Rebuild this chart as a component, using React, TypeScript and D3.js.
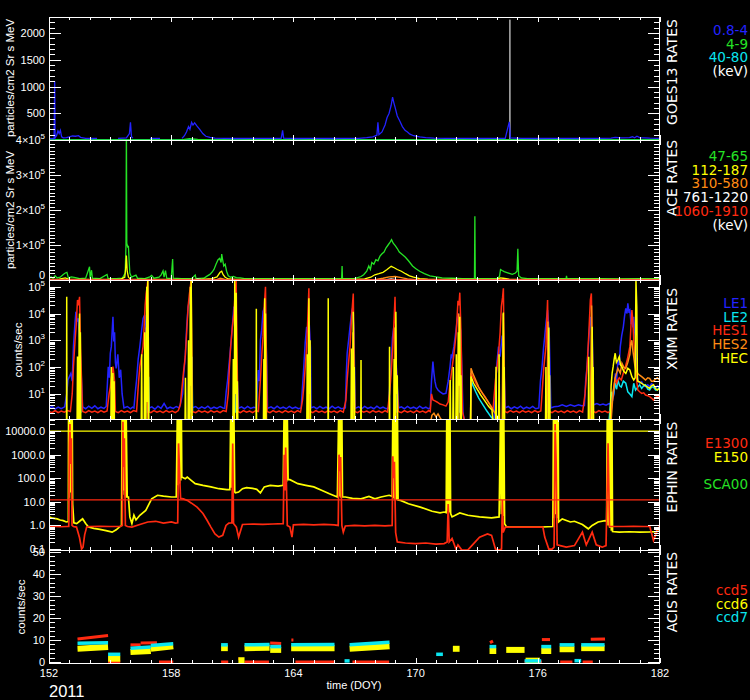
import React from "react";
import * as d3 from "d3";

type Pt = [number, number | null];
type Seg = [number, number, number, number];

const DOY_START = 152;
const DOY_END = 182;
const YEAR_LABEL = "2011";
const X_TITLE = "time (DOY)";
const X_MAJOR_TICKS = [152, 158, 164, 170, 176, 182];

const GOES_TICKS = [500, 1000, 1500, 2000];
const ACE_TICKS = [0, 100000, 200000, 300000, 400000];
const XMM_TICKS = [10, 100, 1000, 10000, 100000];
const EPHIN_TICKS = [0.1, 1, 10, 100, 1000, 10000];
const ACIS_TICKS = [0, 10, 20, 30, 40, 50];

const GOES_LEGEND = ["0.8-4", "4-9", "40-80", "(keV)"];
const ACE_LEGEND = ["47-65", "112-187", "310-580", "761-1220", "1060-1910", "(keV)"];
const XMM_LEGEND = ["LE1", "LE2", "HES1", "HES2", "HEC"];
const EPHIN_LEGEND = ["E1300", "E150", "", "SCA00"];
const ACIS_LEGEND = ["ccd5", "ccd6", "ccd7"];

const EPHIN_E150_LIMIT = 10000;
const EPHIN_E1300_LIMIT = 12;

// ---------------- GOES13 (particles/cm2 Sr s MeV) ----------------
const goesP1: Pt[] = [
  [152.0, 25], [152.25, 30], [152.28, 1100], [152.3, 40], [152.38, 90], [152.44, 170], [152.5, 120], [152.56, 180],
  [152.62, 60], [152.7, 40], [152.85, 45], [153.0, 60], [153.15, 75], [153.3, 70], [153.45, 80], [153.55, 50],
  [153.8, 30], [154.1, 28], [154.36, 30], [154.4, null], [155.39, 30], [155.6, 35], [155.8, 40], [155.95, 120],
  [156.0, 330], [156.05, 60], [156.12, 35], [156.2, null], [156.96, 30], [157.2, 30], [157.45, 30], [157.5, null],
  [158.53, 30], [158.65, 80], [158.75, 150], [158.85, 250], [158.92, 200], [159.0, 330], [159.07, 280], [159.15, 320],
  [159.27, 260], [159.4, 200], [159.55, 120], [159.7, 70], [159.9, 50], [160.15, 35], [160.6, 30], [161.2, 28],
  [162.0, 30], [162.8, 30], [163.4, 32], [163.47, 180], [163.52, 35], [164.2, 28], [165.0, 30], [165.8, 28],
  [166.5, 30], [167.2, 30], [167.6, 45], [167.9, 60], [168.1, 90], [168.15, 330], [168.2, 100], [168.35, 150],
  [168.5, 280], [168.6, 420], [168.7, 500], [168.8, 650], [168.87, 800], [168.93, 700], [169.0, 600], [169.1, 450],
  [169.23, 350], [169.35, 250], [169.48, 180], [169.6, 150], [169.72, 110], [169.9, 80], [170.2, 60], [170.5, 45],
  [170.9, 35], [171.5, 30], [172.3, 30], [173.0, 28], [173.8, 30], [174.4, 30], [174.6, 340], [174.65, 40],
  [175.2, 30], [176.0, 28], [177.0, 30], [178.0, 28], [179.0, 30], [179.6, 35], [179.8, 50], [180.1, 40],
  [180.5, 45], [180.65, 60], [180.75, 40], [180.87, 70], [181.0, 45], [181.5, 35], [182.0, 30],
];
const goesP2: Pt[] = [[152.0, 5], [158.5, 5], [158.9, 25], [159.3, 10], [160.0, 5], [182.0, 5]];
const goesP3: Pt[] = [[152.0, 2], [182.0, 2]];
const goesSpike: Pt[] = [[174.62, 20], [174.63, 2250], [174.64, 20]];

// ---------------- ACE ----------------
const aceP1: Pt[] = [
  [152.0, 4000], [152.1, 9000], [152.2, 5000], [152.3, 12000], [152.4, 6000], [152.55, 8000], [152.7, 16000],
  [152.8, 20000], [152.88, 22000], [152.95, 6000], [153.1, 9000], [153.3, 7000], [153.5, 4000], [153.8, 5000],
  [153.99, 38000], [154.02, 5000], [154.09, 28000], [154.13, 5000], [154.5, 4000], [154.85, 16000], [154.9, 4000],
  [155.3, 4000], [155.6, 5000], [155.74, 20000], [155.78, 100000], [155.8, 450000], [155.82, 105000], [155.86, 95000],
  [155.9, 96000], [155.93, 60000], [155.97, 20000], [156.05, 8000], [156.27, 14000], [156.35, 5000], [156.7, 4000],
  [156.95, 9000], [157.04, 13000], [157.15, 5000], [157.4, 8000], [157.5, 14000], [157.6, 26000], [157.65, 8000],
  [157.72, 27000], [157.78, 5000], [158.0, 4000], [158.07, 60000], [158.1, 5000], [158.5, 4000], [159.0, 4000],
  [159.18, 14000], [159.22, 4000], [159.6, 5000], [159.76, 11000], [159.9, 16000], [160.0, 22000], [160.1, 30000],
  [160.2, 45000], [160.3, 58000], [160.38, 62000], [160.45, 50000], [160.48, 74000], [160.52, 60000], [160.58, 40000],
  [160.65, 45000], [160.72, 25000], [160.8, 12000], [160.92, 8000], [161.05, 10000], [161.2, 7000], [161.4, 6000],
  [161.6, 4000], [162.0, 4000], [163.0, 4000], [164.0, 4000], [165.0, 4000], [166.0, 4000], [166.37, 4000],
  [166.39, 40000], [166.41, 4000], [167.0, 4000], [167.32, 10000], [167.45, 15000], [167.6, 25000], [167.7, 40000],
  [167.78, 30000], [167.85, 50000], [167.95, 45000], [168.05, 58000], [168.15, 55000], [168.25, 68000], [168.35, 75000],
  [168.45, 80000], [168.55, 92000], [168.65, 100000], [168.75, 108000], [168.82, 115000], [168.9, 105000], [169.0, 98000],
  [169.1, 90000], [169.2, 80000], [169.36, 72000], [169.5, 65000], [169.65, 55000], [169.85, 40000], [170.0, 33000],
  [170.2, 25000], [170.43, 18000], [170.7, 12000], [171.0, 9000], [171.3, 6000], [171.79, 5000], [172.3, 4000],
  [172.89, 4000], [172.91, 182000], [172.93, 4000], [173.5, 4000], [174.0, 4000], [174.12, 10000], [174.17, 30000],
  [174.25, 27000], [174.35, 24000], [174.45, 22000], [174.6, 19000], [174.75, 16000], [174.9, 20000], [174.98, 25000],
  [175.02, 89000], [175.06, 12000], [175.2, 6000], [175.5, 4000], [176.0, 4000], [177.0, 4000], [177.39, 4000],
  [177.41, 12000], [177.43, 4000], [178.0, 4000], [179.0, 4000], [180.0, 3500], [181.0, 4000], [182.0, 4000],
];
const aceP2: Pt[] = [
  [152.0, 1500], [152.5, 2500], [152.8, 6000], [152.95, 2500], [153.5, 2000], [154.5, 2000], [155.5, 2000],
  [155.72, 8000], [155.76, 30000], [155.8, 70000], [155.84, 25000], [155.9, 8000], [156.0, 2500], [157.0, 2000],
  [158.0, 2000], [159.5, 2000], [160.0, 4000], [160.25, 9000], [160.4, 22000], [160.48, 25000], [160.55, 15000],
  [160.65, 8000], [160.8, 3000], [161.2, 2000], [163.0, 1500], [165.0, 1500], [167.0, 1500], [167.5, 3000],
  [167.8, 8000], [168.0, 15000], [168.2, 18000], [168.4, 22000], [168.6, 30000], [168.8, 39000], [168.95, 35000],
  [169.1, 30000], [169.3, 25000], [169.5, 18000], [169.7, 12000], [169.9, 8000], [170.2, 4000], [170.6, 2500],
  [171.5, 2000], [173.0, 1500], [174.0, 2000], [174.15, 6000], [174.3, 5000], [174.6, 2500], [175.5, 1500],
  [178.0, 1500], [182.0, 1500],
];
const aceP3: Pt[] = [
  [152.0, 500], [160.2, 500], [160.4, 5000], [160.55, 3000], [160.7, 500], [168.0, 1000], [168.4, 5000],
  [168.7, 9000], [169.0, 10000], [169.3, 7000], [169.6, 3000], [170.0, 800], [182.0, 500],
];
const aceP4: Pt[] = [[152.0, 200], [159.1, 200], [159.3, 2500], [159.6, 200], [168.5, 200], [168.8, 3000], [169.1, 200], [182.0, 200]];
const aceP5: Pt[] = [[152.0, 100], [182.0, 100]];

// ---------------- XMM (counts/sec) ----------------
const xmmLE1: Pt[] = [
  [152.0, 2.9], [152.15, 3.4], [152.3, 2.7], [152.45, 3.2], [152.6, 2.8], [152.77, 3.3], [152.87, 10], [152.93, 33],
  [153.07, 58], [153.14, 30], [153.2, 580], [153.26, 3000], [153.32, 11700], [153.38, 5000], [153.43, 6600],
  [153.51, 1000], [153.58, 60], [153.65, 3.3], [153.8, 2.8], [153.95, 3.5], [154.1, 2.9], [154.25, 3.6], [154.4, 2.8],
  [154.55, 3.2], [154.7, 2.9], [154.81, 3.4], [154.91, 104], [154.96, 40], [155.01, 330], [155.06, 580], [155.14, 7600],
  [155.18, 900], [155.22, 2000], [155.26, 150], [155.3, 90], [155.38, 300], [155.45, 40], [155.52, 80], [155.59, 10],
  [155.68, 3.0], [155.85, 3.4], [156.0, 2.8], [156.1, 3.2], [156.17, 3.0], [156.24, 12], [156.3, 33], [156.38, 200],
  [156.46, 580], [156.55, 2400], [156.62, 6600], [156.7, 9000], [156.75, 3000], [156.82, 300], [156.89, 2.9],
  [157.05, 3.3], [157.2, 2.7], [157.35, 3.5], [157.5, 2.9], [157.65, 4.4], [157.8, 2.8], [157.95, 3.2], [158.1, 2.9],
  [158.25, 3.4], [158.4, 3.0], [158.5, 6], [158.56, 10], [158.62, 60], [158.69, 245], [158.76, 3200], [158.83, 18000],
  [158.9, 30000], [158.94, 56000], [158.98, 2000], [159.02, 3.0], [159.2, 3.4], [159.35, 2.8], [159.5, 3.3],
  [159.65, 2.9], [159.8, 3.5], [159.95, 2.8], [160.1, 3.2], [160.25, 2.9], [160.4, 3.4], [160.55, 3.0], [160.63, 2.9],
  [160.7, 12], [160.77, 33], [160.85, 150], [160.92, 580], [161.0, 3200], [161.08, 18000], [161.15, 5000],
  [161.21, 104], [161.31, 2.9], [161.45, 3.3], [161.6, 2.8], [161.75, 3.4], [161.9, 2.9], [162.05, 3.2], [162.18, 3.0],
  [162.28, 78], [162.33, 30], [162.38, 1000], [162.44, 2400], [162.51, 12000], [162.59, 18000], [162.68, 300],
  [162.73, 2.9], [162.9, 3.3], [163.05, 2.8], [163.2, 3.5], [163.35, 2.9], [163.5, 3.2], [163.65, 2.8], [163.8, 3.4],
  [163.95, 2.9], [164.1, 3.2], [164.25, 2.8], [164.38, 3.0], [164.45, 20], [164.51, 104], [164.58, 800],
  [164.65, 3200], [164.7, 2000], [164.76, 7600], [164.84, 500], [164.86, 3.0], [165.0, 3.3], [165.15, 2.8],
  [165.3, 3.4], [165.45, 2.9], [165.6, 3.2], [165.75, 2.8], [165.9, 3.5], [166.05, 2.9], [166.2, 3.3], [166.35, 2.8],
  [166.55, 3.0], [166.6, 60], [166.64, 330], [166.71, 1000], [166.78, 3200], [166.84, 8000], [166.9, 15600],
  [166.97, 3000], [167.03, 2.9], [167.2, 3.3], [167.35, 2.8], [167.5, 3.4], [167.65, 2.9], [167.8, 3.2], [167.95, 2.8],
  [168.1, 3.5], [168.25, 2.9], [168.4, 3.2], [168.55, 2.8], [168.68, 3.0], [168.74, 30], [168.8, 104], [168.86, 1200],
  [168.93, 3200], [168.98, 500], [169.03, 300], [169.1, 20], [169.17, 3.0], [169.3, 3.3], [169.45, 2.8], [169.6, 3.4],
  [169.75, 2.9], [169.9, 3.2], [170.05, 2.8], [170.2, 3.5], [170.35, 2.9], [170.5, 3.2], [170.62, 2.8], [170.72, 3.0],
  [170.78, 30], [170.85, 160], [170.9, 60], [170.95, 30], [171.01, 18], [171.1, 14], [171.2, 12], [171.35, 10],
  [171.49, 10.5], [171.6, 30], [171.69, 104], [171.75, 300], [171.79, 245], [171.88, 580], [171.95, 1500],
  [172.0, 3000], [172.08, 10100], [172.14, 5000], [172.21, 2400], [172.28, 50], [172.33, 1.9], [172.4, 1.0],
  [172.45, null], [173.85, 1.0], [173.92, 18], [174.0, 160], [174.07, 580], [174.15, 245], [174.25, 1500],
  [174.32, 300], [174.4, 3.0], [174.55, 3.4], [174.7, 2.8], [174.85, 3.3], [175.0, 2.9], [175.15, 3.5], [175.3, 2.8],
  [175.45, 3.2], [175.6, 2.9], [175.75, 3.4], [175.9, 2.8], [176.05, 3.0], [176.13, 30], [176.21, 104], [176.28, 500],
  [176.34, 1370], [176.41, 5000], [176.48, 13500], [176.56, 2000], [176.64, 3.0], [176.8, 3.3], [177.02, 3.5],
  [177.2, 3.9], [177.4, 3.4], [177.6, 3.9], [177.8, 3.5], [178.0, 3.9], [178.15, 3.6], [178.29, 3.7], [178.35, 30],
  [178.42, 104], [178.5, 1000], [178.58, 7600], [178.64, 3000], [178.68, 1000], [178.73, 3.9], [178.9, 4.4],
  [179.05, 3.9], [179.2, 4.2], [179.35, 3.8], [179.5, 4.4], [179.62, 4.0], [179.74, 10], [179.8, 58], [179.87, 30],
  [179.93, 180], [180.0, 120], [180.05, 580], [180.12, 1500], [180.2, 3200], [180.26, 8000], [180.32, 15600],
  [180.38, 10000], [180.42, 24000], [180.47, 12000], [180.52, 13500], [180.58, 4000], [180.62, 6000], [180.67, 3000],
  [180.71, 7600], [180.76, 2000], [180.8, 1000], [180.85, 100], [180.91, 33], [181.0, 25], [181.1, 28], [181.2, 20],
  [181.29, 18.6], [181.4, 22], [181.49, 18.6], [181.58, 24], [181.68, 22], [181.78, 16], [181.87, 20], [181.97, 19],
];
const xmmLE2: Pt[] = [
  [153.45, 2], [153.52, 60], [153.56, 2], [153.6, null], [156.84, 2], [156.89, 44], [156.92, 2], [156.95, null],
  [158.98, 2], [159.02, 245], [159.05, 2], [159.1, null], [161.17, 2], [161.21, 130], [161.25, 2], [161.3, null],
  [162.6, 2], [162.63, 10], [162.66, 2], [162.7, null], [169.0, 2], [169.03, 40], [169.06, 2], [169.1, null],
  [172.17, 2], [172.2, 40], [172.23, 2], [172.3, null], [172.7, 1.0], [172.72, 33], [172.8, 22], [172.95, 12],
  [173.1, 7], [173.3, 4], [173.5, 2.3], [173.7, 1.4], [173.82, 1.1], [173.9, null], [174.28, 2], [174.31, 44],
  [174.34, 2], [174.4, null], [176.51, 2], [176.54, 245], [176.57, 2], [176.6, null], [178.64, 2], [178.67, 245],
  [178.7, 2], [178.8, null], [179.5, 1.0], [179.55, 3], [179.62, 12], [179.7, 8], [179.8, 25], [179.87, 15],
  [179.93, 33], [180.02, 20], [180.1, 18], [180.2, 30], [180.32, 25], [180.42, 12], [180.52, 10], [180.62, 8],
  [180.71, 25], [180.8, 14], [180.91, 18], [181.0, 22], [181.1, 16], [181.2, 20], [181.29, 22], [181.4, 15],
  [181.49, 14], [181.58, 18], [181.68, 18], [181.78, 14], [181.87, 14], [181.97, 18],
];
const xmmHES1: Pt[] = [
  [152.0, 2.2], [152.15, 2.0], [152.3, 2.4], [152.45, 2.0], [152.6, 2.3], [152.75, 2.1], [152.9, 2.4], [153.05, 2.2],
  [153.14, 10], [153.2, 104], [153.28, 1000], [153.33, 3200], [153.4, 32000], [153.45, 20000], [153.5, 42000],
  [153.55, 500], [153.62, 10], [153.65, 2.2], [153.8, 2.0], [153.95, 2.4], [154.1, 2.1], [154.25, 2.3], [154.4, 2.0],
  [154.55, 2.4], [154.7, 2.1], [154.85, 2.3], [154.95, 10], [155.01, 18], [155.06, 40], [155.1, 58], [155.14, 104],
  [155.18, 60], [155.22, 30], [155.26, 2.2], [155.4, 2.0], [155.55, 2.4], [155.7, 2.1], [155.85, 2.3], [156.0, 2.0],
  [156.15, 2.4], [156.3, 2.2], [156.4, 30], [156.46, 104], [156.52, 200], [156.56, 300], [156.62, 600], [156.65, 1370],
  [156.72, 20000], [156.77, 56000], [156.82, 100000], [156.85, 178000], [156.89, 2.2], [157.0, 2.0], [157.15, 2.4],
  [157.3, 2.1], [157.45, 2.3], [157.6, 2.0], [157.75, 2.4], [157.9, 2.1], [158.05, 2.3], [158.2, 2.0], [158.35, 2.4],
  [158.45, 4], [158.5, 10], [158.6, 60], [158.69, 245], [158.76, 2000], [158.83, 18000], [158.89, 50000],
  [158.94, 100000], [158.98, 178000], [159.03, 2.2], [159.2, 2.0], [159.35, 2.4], [159.5, 2.1], [159.65, 2.3],
  [159.8, 2.0], [159.95, 2.4], [160.1, 2.1], [160.25, 2.3], [160.4, 2.0], [160.55, 2.4], [160.7, 2.2], [160.8, 10],
  [160.86, 100], [160.92, 580], [161.0, 3000], [161.08, 10100], [161.14, 60000], [161.19, 178000], [161.27, 2.2],
  [161.4, 2.0], [161.55, 2.4], [161.7, 2.1], [161.85, 2.3], [162.0, 2.0], [162.15, 2.4], [162.28, 2.2], [162.38, 33],
  [162.45, 300], [162.51, 1370], [162.57, 20000], [162.63, 100000], [162.71, 2.2], [162.85, 2.0], [163.0, 2.4],
  [163.15, 2.1], [163.3, 2.3], [163.45, 2.0], [163.6, 2.4], [163.75, 2.1], [163.9, 2.3], [164.05, 2.0], [164.2, 2.4],
  [164.35, 2.1], [164.45, 6], [164.51, 18], [164.58, 100], [164.65, 580], [164.7, 5000], [164.76, 87000],
  [164.82, 2.2], [164.95, 2.0], [165.1, 2.4], [165.25, 2.1], [165.4, 2.3], [165.55, 2.0], [165.7, 2.4], [165.85, 2.1],
  [166.0, 2.3], [166.15, 2.0], [166.3, 2.4], [166.45, 2.1], [166.58, 6], [166.64, 33], [166.71, 150], [166.78, 580],
  [166.86, 8000], [166.94, 56000], [167.01, 2.2], [167.15, 2.0], [167.3, 2.4], [167.45, 2.1], [167.6, 2.3],
  [167.75, 2.0], [167.9, 2.4], [168.05, 2.1], [168.2, 2.3], [168.35, 2.0], [168.5, 2.4], [168.62, 2.1], [168.72, 10],
  [168.8, 58], [168.88, 580], [168.94, 5000], [168.99, 42000], [169.05, 100], [169.15, 2.2], [169.3, 2.0],
  [169.45, 2.4], [169.6, 2.1], [169.75, 2.3], [169.9, 2.0], [170.05, 2.4], [170.2, 2.1], [170.35, 2.3], [170.5, 2.0],
  [170.65, 2.4], [170.72, 2.2], [170.78, 10], [170.85, 6], [170.95, 5.5], [171.05, 5], [171.2, 4.2], [171.35, 3.9],
  [171.49, 3.5], [171.6, 5], [171.69, 25], [171.79, 90], [171.88, 300], [171.98, 1500], [172.04, 8000],
  [172.08, 30000], [172.13, 20000], [172.17, 60000], [172.23, 2000], [172.3, 2.2], [172.4, 1.0], [172.7, 1.0],
  [172.72, 60], [172.85, 38], [173.0, 22], [173.2, 13], [173.4, 8], [173.6, 4.5], [173.8, 2.5], [173.92, 33],
  [174.0, 100], [174.07, 300], [174.15, 2000], [174.21, 18000], [174.27, 40000], [174.31, 87000], [174.38, 2.2],
  [174.5, 2.0], [174.65, 2.4], [174.8, 2.1], [174.95, 2.3], [175.1, 2.0], [175.25, 2.4], [175.4, 2.1], [175.55, 2.3],
  [175.7, 2.0], [175.85, 2.4], [176.0, 2.1], [176.15, 2.3], [176.25, 30], [176.3, 104], [176.36, 300], [176.4, 580],
  [176.44, 5000], [176.48, 32000], [176.56, 2.2], [176.7, 2.0], [176.85, 2.4], [177.0, 2.1], [177.15, 2.3],
  [177.3, 2.0], [177.45, 2.4], [177.6, 2.1], [177.75, 2.3], [177.9, 2.0], [178.05, 2.4], [178.2, 2.1], [178.32, 10],
  [178.42, 104], [178.5, 1500], [178.58, 32000], [178.63, 56000], [178.73, 2.2], [178.85, 2.0], [179.0, 2.4],
  [179.15, 2.1], [179.3, 2.3], [179.45, 2.0], [179.6, 2.4], [179.74, 18], [179.8, 40], [179.87, 25], [179.93, 33],
  [180.0, 40], [180.1, 33], [180.2, 60], [180.3, 104], [180.4, 200], [180.52, 580], [180.57, 3000], [180.62, 13500],
  [180.67, 5000], [180.71, 1000], [180.76, 300], [180.81, 150], [180.86, 30], [180.91, 14], [181.0, 12], [181.1, 10.5],
  [181.2, 11], [181.29, 9.1], [181.4, 8.5], [181.49, 7.9], [181.58, 7], [181.68, 5.9], [181.78, 7.5], [181.87, 8],
  [181.97, 7.9],
];
const xmmHES2: Pt[] = [
  [152.0, 1.0], [156.7, 1.0], [156.78, 3000], [156.86, 1.0], [158.9, 1.0], [158.97, 100000], [159.02, 1.0],
  [161.1, 1.0], [161.17, 20000], [161.24, 1.0], [162.57, 1.0], [162.62, 3000], [162.68, 1.0], [164.7, 1.0],
  [164.75, 5000], [164.8, 1.0], [166.88, 1.0], [166.93, 2000], [166.98, 1.0], [168.94, 1.0], [168.98, 3000],
  [169.04, 1.0], [170.75, 1.0], [170.8, 1.6], [170.9, 1.9], [171.0, 1.4], [171.1, 1.8], [171.2, 1.3], [171.3, 1.0],
  [172.05, 1.0], [172.12, 10000], [172.2, 1.0], [172.7, 1.0], [172.72, 90], [172.8, 60], [172.95, 33], [173.1, 18],
  [173.3, 10], [173.5, 6], [173.7, 3.5], [173.85, 2.2], [174.0, 1.5], [174.1, 1.0], [174.25, 1.0], [174.3, 10000],
  [174.36, 1.0], [176.45, 1.0], [176.5, 5000], [176.55, 1.0], [178.58, 1.0], [178.64, 20000], [178.7, 1.0],
  [179.6, 1.0], [179.7, 12], [179.8, 40], [179.93, 90], [180.05, 60], [180.13, 140], [180.22, 100], [180.32, 90],
  [180.42, 150], [180.52, 300], [180.57, 800], [180.62, 1000], [180.67, 400], [180.71, 245], [180.76, 120],
  [180.81, 78], [180.91, 58], [181.0, 50], [181.1, 44], [181.2, 38], [181.29, 33], [181.4, 40], [181.49, 38],
  [181.58, 30], [181.68, 30], [181.78, 36], [181.87, 40], [181.97, 33],
];
const xmmHEC: Pt[] = [
  [152.0, 1.0], [152.86, 1.0], [152.87, 42000], [152.88, 1.0], [153.38, 1.0], [153.4, 250], [153.42, 1.0],
  [153.46, 1.0], [153.48, 3000], [153.5, 10000], [153.52, 1.0], [153.54, 2000], [153.56, 1.0], [155.04, 1.0],
  [155.06, 100], [155.08, 1.0], [155.12, 1.0], [155.14, 60], [155.16, 1.0], [155.19, 1.0], [155.2, 30], [155.21, 1.0],
  [156.53, 1.0], [156.55, 300], [156.57, 1.0], [156.68, 1.0], [156.7, 2000], [156.72, 1.0], [156.76, 1.0],
  [156.8, 100000], [156.82, 5], [156.85, 178000], [156.88, 500], [156.9, 1.0], [158.68, 1.0], [158.7, 40],
  [158.72, 1.0], [158.83, 1.0], [158.85, 1000], [158.87, 1.0], [158.92, 1.0], [158.94, 100000], [158.96, 20],
  [158.98, 178000], [159.0, 3000], [159.02, 1.0], [161.03, 1.0], [161.05, 200], [161.07, 1.0], [161.1, 1.0],
  [161.12, 178000], [161.15, 10], [161.19, 60000], [161.22, 1.0], [161.25, 30], [161.27, 1.0], [162.17, 1.0],
  [162.18, 15000], [162.19, 1.0], [162.53, 1.0], [162.55, 200], [162.57, 1.0], [162.58, 1.0], [162.59, 37000],
  [162.61, 5], [162.63, 10000], [162.65, 1.0], [164.66, 1.0], [164.68, 300], [164.7, 1.0], [164.74, 1.0],
  [164.76, 37000], [164.79, 10], [164.82, 1000], [164.84, 1.0], [165.7, 1.0], [165.71, 37000], [165.72, 1.0],
  [166.83, 1.0], [166.85, 500], [166.87, 1.0], [166.92, 1.0], [166.94, 11700], [166.97, 10], [166.99, 100],
  [167.01, 1.0], [167.31, 1.0], [167.32, 184], [167.33, 1.0], [168.71, 1.0], [168.72, 580], [168.73, 1.0],
  [168.93, 1.0], [168.95, 200], [168.97, 1.0], [169.01, 1.0], [169.03, 11700], [169.06, 10], [169.1, 50],
  [169.12, 1.0], [171.68, 1.0], [171.7, 33], [171.72, 1.0], [171.83, 1.0], [171.85, 100], [171.87, 1.0],
  [171.98, 1.0], [172.0, 300], [172.02, 1.0], [172.08, 1.0], [172.1, 2000], [172.13, 20], [172.17, 7600],
  [172.2, 1.0], [172.23, 50], [172.25, 1.0], [172.7, 1.0], [172.72, 45], [172.85, 25], [173.0, 16], [173.2, 9],
  [173.4, 5.5], [173.6, 3.3], [173.75, 2.5], [173.8, 1.0], [173.93, 1.0], [173.95, 104], [173.97, 1.0],
  [174.08, 1.0], [174.1, 300], [174.12, 1.0], [174.29, 1.0], [174.31, 11000], [174.34, 10], [174.35, 100],
  [174.37, 1.0], [176.38, 1.0], [176.4, 100], [176.42, 1.0], [176.52, 1.0], [176.54, 3000], [176.56, 10],
  [176.58, 50], [176.6, 1.0], [178.48, 1.0], [178.5, 245], [178.52, 1.0], [178.65, 1.0], [178.67, 3200],
  [178.7, 10], [178.72, 100], [178.74, 1.0], [179.55, 1.0], [179.6, 20], [179.65, 60], [179.7, 104], [179.75, 200],
  [179.8, 330], [179.86, 150], [179.93, 184], [180.0, 245], [180.06, 120], [180.13, 104], [180.22, 70], [180.32, 58],
  [180.42, 90], [180.52, 78], [180.62, 44], [180.71, 33], [180.78, 40], [180.82, 178000], [180.86, 18000],
  [180.89, 40], [180.91, 30], [181.0, 28], [181.1, 25], [181.2, 22], [181.29, 20], [181.4, 18], [181.49, 16],
  [181.58, 20], [181.68, 22], [181.78, 16], [181.87, 14], [181.97, 16],
];

// ---------------- EPHIN ----------------
const ephE150: Pt[] = [
  [152.0, 2.3], [152.12, 2.1], [152.25, 2.0], [152.4, 1.9], [152.55, 1.7], [152.7, 1.6], [152.85, 1.4], [152.95, 1.45],
  [152.96, 40000], [152.99, 15], [153.02, 40000], [153.05, 25], [153.08, 40000], [153.11, 12], [153.14, 40000],
  [153.16, 8], [153.22, 1.3], [153.36, 1.2], [153.5, 1.5], [153.65, 1.9], [153.8, 1.2], [153.94, 0.85], [154.2, 0.75],
  [154.5, 0.68], [154.8, 0.6], [155.1, 0.52], [155.3, 0.65], [155.45, 0.85], [155.56, 1.0], [155.59, 40000],
  [155.62, 20], [155.65, 40000], [155.69, 30], [155.72, 40000], [155.76, 15], [155.79, 40000], [155.84, 16],
  [155.9, 16], [155.97, 2.3], [156.07, 1.2], [156.17, 2.7], [156.27, 1.7], [156.46, 2.7], [156.75, 4.3],
  [157.04, 13.4], [157.33, 19], [157.62, 17.5], [158.01, 16], [158.25, 16], [158.3, 40000], [158.34, 50],
  [158.37, 40000], [158.41, 60], [158.44, 40000], [158.47, 80], [158.5, 40000], [158.52, 113], [158.69, 96],
  [158.79, 113], [158.98, 82], [159.18, 59], [159.56, 50], [159.95, 43], [160.34, 36], [160.73, 33], [160.88, 33],
  [160.92, 40000], [160.96, 40], [161.0, 40000], [161.04, 30], [161.08, 40000], [161.12, 26], [161.15, 24],
  [161.31, 26], [161.5, 36], [161.7, 40], [162.0, 37], [162.2, 34], [162.38, 24], [162.57, 43], [162.86, 50],
  [163.25, 46], [163.5, 50], [163.54, 40000], [163.58, 60], [163.62, 40000], [163.66, 70], [163.7, 40000],
  [163.74, 87], [163.83, 87], [164.22, 59], [164.61, 50], [165.0, 43], [165.38, 31], [165.77, 22], [166.16, 16],
  [166.22, 40000], [166.26, 17], [166.3, 40000], [166.34, 15], [166.38, 40000], [166.41, 16], [166.55, 16],
  [166.9, 14], [167.32, 13.4], [167.71, 17], [168.0, 13.4], [168.3, 16], [168.7, 19], [168.85, 17], [168.88, 40000],
  [168.92, 14], [168.96, 40000], [169.0, 12], [169.04, 40000], [169.08, 12], [169.11, 40000], [169.14, 12],
  [169.26, 11.5], [169.65, 8.3], [170.23, 6], [170.81, 4], [171.2, 3.4], [171.4, 3.7], [171.5, 3.5], [171.53, 40000],
  [171.57, 4], [171.61, 40000], [171.65, 3.5], [171.69, 40000], [171.72, 3.2], [171.79, 2.3], [172.17, 3.4],
  [172.56, 2.7], [173.14, 2.3], [173.73, 2.1], [174.1, 2.3], [174.17, 40000], [174.21, 3], [174.25, 40000],
  [174.29, 2.5], [174.33, 40000], [174.37, 1.2], [174.45, 0.9], [174.6, 0.85], [175.0, 0.85], [175.5, 0.85],
  [176.0, 0.85], [176.5, 0.88], [176.74, 0.9], [176.77, 40000], [176.81, 2], [176.85, 40000], [176.89, 3],
  [176.93, 40000], [176.97, 2], [177.0, 40000], [177.02, 1.4], [177.2, 1.9], [177.6, 1.4], [177.8, 1.5],
  [178.19, 1.1], [178.48, 0.72], [178.67, 1.0], [178.96, 1.4], [179.3, 1.6], [179.38, 1.5], [179.41, 40000],
  [179.45, 1.0], [179.49, 40000], [179.53, 0.8], [179.57, 40000], [179.61, 0.6], [179.64, 40000], [179.67, 0.55],
  [180.0, 0.52], [180.5, 0.54], [181.0, 0.52], [181.5, 0.53], [181.8, 0.55], [181.97, 0.72],
];
const ephE1300: Pt[] = [
  [152.0, 0.9], [152.3, 0.92], [152.6, 0.88], [152.9, 0.9], [152.97, 0.9], [153.0, 3000], [153.03, 20000],
  [153.06, 400], [153.1, 5000], [153.13, 1.0], [153.2, 0.9], [153.35, 0.85], [153.5, 0.3], [153.6, 0.1],
  [153.67, 0.12], [153.75, 0.4], [153.85, 0.85], [154.0, 0.9], [154.5, 0.92], [155.0, 0.9], [155.5, 0.9], [155.6, 1.0],
  [155.63, 25000], [155.66, 300], [155.7, 5000], [155.75, 1.0], [155.85, 0.9], [156.07, 0.85], [156.46, 1.1],
  [156.85, 1.4], [157.24, 1.5], [157.62, 1.25], [158.01, 1.4], [158.21, 1.25], [158.32, 1.3], [158.36, 3000],
  [158.39, 600], [158.42, 100], [158.46, 14], [158.6, 13.4], [158.79, 11.5], [158.98, 9], [159.27, 6], [159.56, 3.2],
  [159.76, 1.66], [159.95, 0.85], [160.15, 0.44], [160.34, 0.32], [160.53, 0.38], [160.69, 1.0], [160.83, 1.25],
  [160.98, 1.3], [161.02, 3000], [161.06, 1.2], [161.2, 0.85], [161.31, 0.32], [161.5, 1.1], [162.0, 1.15],
  [162.5, 1.1], [163.0, 1.15], [163.5, 1.2], [163.55, 1000], [163.58, 30], [163.62, 2000], [163.7, 1.0],
  [163.83, 0.85], [163.93, 0.32], [164.0, 1.05], [164.5, 1.1], [165.0, 1.05], [165.5, 1.1], [166.0, 1.05],
  [166.2, 1.0], [166.24, 1000], [166.28, 200], [166.32, 800], [166.38, 1.0], [166.45, 0.52], [166.55, 0.95],
  [167.0, 1.0], [167.5, 0.95], [168.0, 1.0], [168.5, 0.95], [168.85, 1.0], [168.88, 850], [168.92, 100],
  [168.96, 500], [169.02, 0.5], [169.1, 0.2], [169.5, 0.18], [170.0, 0.17], [170.5, 0.18], [171.0, 0.16],
  [171.4, 0.17], [171.55, 0.2], [171.6, 8], [171.65, 0.2], [171.79, 0.28], [171.98, 0.1], [172.08, 0.15],
  [172.27, 0.09], [172.56, 0.09], [172.76, 0.14], [173.14, 0.32], [173.53, 0.44], [173.73, 0.38], [173.92, 0.1],
  [174.11, 0.09], [174.22, 0.1], [174.26, 12], [174.3, 0.5], [174.4, 0.85], [174.6, 0.85], [175.0, 0.85],
  [175.5, 0.85], [176.0, 0.85], [176.25, 0.85], [176.34, 0.32], [176.54, 0.1], [176.7, 0.1], [176.8, 0.12],
  [176.85, 20000], [176.9, 500], [176.95, 0.15], [177.1, 0.14], [177.4, 0.12], [177.8, 0.14], [178.19, 0.52],
  [178.38, 0.15], [178.67, 0.52], [178.87, 0.15], [179.16, 0.12], [179.35, 0.14], [179.45, 3000], [179.52, 0.9],
  [179.7, 0.9], [180.2, 0.9], [180.7, 0.92], [181.2, 0.9], [181.5, 0.9], [181.68, 0.23], [181.87, 0.62], [181.97, 0.9],
];

// ---------------- ACIS (counts/sec): [startDOY, endDOY, startRate, endRate] ----------------
const acisCcd5: Seg[] = [
  [153.4, 154.9, 10.5, 12], [154.9, 155.5, 0, 0], [156.0, 156.5, 7.8, 7.8], [156.5, 157.3, 8.6, 8.8],
  [157.4, 158.1, 0, 0], [160.45, 160.8, 0, 0], [161.3, 161.35, 1.5, 1.5], [161.6, 162.8, 0, 0],
  [162.86, 163.4, 8.6, 8.4], [163.9, 164.0, 10, 10], [164.1, 166.0, 0, 0], [166.9, 168.7, 0, 0],
  [173.65, 173.8, 8.8, 9.5], [175.35, 176.2, 0, 0], [176.2, 176.6, 10.2, 10.2], [177.1, 177.7, 0, 0],
  [178.2, 178.7, 0, 0], [178.6, 179.3, 10.3, 10.5],
];
const acisCcd6: Seg[] = [
  [153.4, 154.9, 6.0, 6.8], [154.9, 155.5, 1.5, 1.5], [156.0, 157.0, 4.5, 5.0], [157.0, 158.1, 6.0, 7.2],
  [160.45, 160.78, 6.3, 6.3], [161.3, 161.6, 0.8, 0.8], [161.6, 162.83, 6.3, 6.5], [162.86, 163.4, 5.5, 5.5],
  [163.89, 166.02, 6.3, 6.3], [166.76, 168.72, 6.0, 7.2], [171.83, 172.16, 6.0, 6.0], [173.63, 173.96, 5.0, 5.0],
  [174.45, 175.35, 5.5, 5.5], [175.4, 176.1, 0.6, 0.6], [176.17, 176.66, 5.0, 5.0], [177.07, 177.8, 5.8, 5.8],
  [178.13, 179.28, 6.3, 6.3],
];
const acisCcd7: Seg[] = [
  [153.4, 154.9, 8.5, 8.8], [154.9, 155.5, 3.5, 3.5], [156.0, 157.0, 6.3, 6.8], [157.0, 158.1, 7.5, 8.3],
  [160.45, 160.78, 7.8, 7.8], [161.6, 162.83, 7.8, 8.0], [162.86, 163.4, 7.0, 7.0], [163.89, 166.02, 7.8, 8.0],
  [166.51, 166.76, 0.5, 0.5], [166.76, 168.72, 7.8, 9.0], [171.01, 171.34, 3.5, 3.5], [173.63, 173.96, 7.0, 7.0],
  [175.35, 176.17, 0.5, 0.5], [176.17, 176.66, 7.0, 7.0], [177.07, 177.8, 7.8, 7.8], [177.8, 178.13, 0.6, 0.6],
  [178.13, 179.28, 7.8, 7.8],
];

// ---------------- styling ----------------
const COL = {
  blue: "#2323ff",
  green: "#25e325",
  cyan: "#0ae6f0",
  red: "#ff2a10",
  orange: "#ff8c14",
  yellow: "#ffff00",
  white: "#ffffff",
  grey: "#b4b4b4",
};
const TICK_FONT = "'Liberation Sans', Arial, sans-serif";
const LEG_FONT = "'DejaVu Sans', sans-serif";

const X0 = 49;
const X1 = 660;

export default function App() {
  const x = d3.scaleLinear().domain([DOY_START, DOY_END]).range([X0, X1]);

  const panels = {
    goes: { top: 17, bottom: 140, y: d3.scaleLinear().domain([0, 2300]).range([140, 17]) },
    ace: { top: 140, bottom: 280, y: d3.scaleLinear().domain([0, 400000]).range([280, 140]) },
    xmm: { top: 280, bottom: 419, y: d3.scaleLog().domain([1.16, 178000]).range([419, 280]) },
    eph: { top: 419, bottom: 550, y: d3.scaleLog().domain([0.091, 32400]).range([550, 419]) },
    acis: { top: 550, bottom: 663, y: d3.scaleLinear().domain([0, 50]).range([662, 552]) },
  };

  const mkLine = (y: any) =>
    d3
      .line<Pt>()
      .defined((d) => d[1] !== null && d[1] !== undefined)
      .x((d) => x(d[0]))
      .y((d) => y(d[1] as number));

  const logMinor = (y: any) => {
    const [lo, hi] = y.domain();
    const out: number[] = [];
    for (let e = Math.floor(Math.log10(lo)); e <= Math.ceil(Math.log10(hi)); e++) {
      for (let k = 2; k <= 9; k++) {
        const v = k * Math.pow(10, e);
        if (v >= lo && v <= hi) out.push(v);
      }
    }
    return out;
  };

  const yTicks = (key: string, y: any, majors: number[], minors: number[], top: number, bottom: number) => {
    const els: any[] = [];
    const inRange = (p: number) => p >= top - 0.5 && p <= bottom + 0.5;
    minors.forEach((v, i) => {
      const p = Math.round(y(v)) + 0.5;
      if (!inRange(p)) return;
      els.push(<line key={`${key}mn${i}`} x1={X0} x2={X0 + 6} y1={p} y2={p} />);
      els.push(<line key={`${key}mnr${i}`} x1={X1 - 6} x2={X1} y1={p} y2={p} />);
    });
    majors.forEach((v, i) => {
      const p = Math.round(y(v)) + 0.5;
      if (!inRange(p)) return;
      els.push(<line key={`${key}mj${i}`} x1={X0} x2={X0 + 12} y1={p} y2={p} />);
      els.push(<line key={`${key}mjr${i}`} x1={X1 - 12} x2={X1} y1={p} y2={p} />);
    });
    return els;
  };

  const xMinor = d3.range(DOY_START, DOY_END + 1, 1).filter((d) => !X_MAJOR_TICKS.includes(d));
  const xTicks = (key: string, top: number, bottom: number) => {
    const els: any[] = [];
    xMinor.forEach((d, i) => {
      const px = Math.round(x(d)) + 0.5;
      els.push(<line key={`${key}xt${i}`} x1={px} x2={px} y1={top} y2={top + 3} />);
      els.push(<line key={`${key}xb${i}`} x1={px} x2={px} y1={bottom} y2={bottom - 3} />);
    });
    X_MAJOR_TICKS.forEach((d, i) => {
      const px = Math.round(x(d)) + 0.5;
      els.push(<line key={`${key}Xt${i}`} x1={px} x2={px} y1={top} y2={top + 5} />);
      els.push(<line key={`${key}Xb${i}`} x1={px} x2={px} y1={bottom} y2={bottom - 5} />);
    });
    return els;
  };

  const P = panels;
  const goesLine = mkLine(P.goes.y);
  const aceLine = mkLine(P.ace.y);
  const xmmLine = mkLine(P.xmm.y);
  const ephLine = mkLine(P.eph.y);

  const linTicks = (a: number, b: number, s: number) => d3.range(a, b + s / 2, s);

  const legend = (items: string[], colors: string[], y0: number, key: string) =>
    items.map((t, i) =>
      t ? (
        <text key={key + i} x={748} y={y0 + i * 13.7} textAnchor="end" fill={colors[i]} fontFamily={LEG_FONT} fontSize={13.5}>
          {t}
        </text>
      ) : null
    );

  const rightTitle = (t: string, cy: number) => (
    <text key={t} transform={`translate(677,${cy}) rotate(-90)`} textAnchor="middle" fill={COL.white} fontFamily={LEG_FONT} fontSize={14}>
      {t}
    </text>
  );
  const leftTitle = (t: string, cx: number, cy: number) => (
    <text transform={`translate(${cx},${cy}) rotate(-90)`} textAnchor="middle" fill={COL.white} fontFamily={TICK_FONT} fontSize={11.5}>
      {t}
    </text>
  );

  const clip = (id: string, top: number, bottom: number) => (
    <clipPath id={id}>
      <rect x={X0} y={top} width={X1 - X0} height={bottom - top} />
    </clipPath>
  );

  const path = (d: string | null, color: string, w: number, k: string) => (
    <path key={k} d={d || ""} fill="none" stroke={color} strokeWidth={w} strokeLinejoin="miter" />
  );

  const acisSegs = (segs: Seg[], color: string, w: number, k: string) =>
    segs.map((s, i) => (
      <line key={k + i} x1={x(s[0])} x2={x(s[1])} y1={P.acis.y(s[2])} y2={P.acis.y(s[3])} stroke={color} strokeWidth={w} />
    ));

  const efmt = d3.format(".1f");

  return (
    <svg width={750} height={700} style={{ position: "absolute", left: 0, top: 0, display: "block" }} xmlns="http://www.w3.org/2000/svg">
      <rect x={0} y={0} width={750} height={700} fill="#000" />
      <defs>
        {clip("c-goes", P.goes.top, P.goes.bottom)}
        {clip("c-ace", P.ace.top, P.ace.bottom)}
        {clip("c-xmm", P.xmm.top, P.xmm.bottom)}
        {clip("c-eph", P.eph.top, P.eph.bottom)}
        {clip("c-acis", P.acis.top, P.acis.bottom)}
      </defs>

      {/* data */}
      <g clipPath="url(#c-goes)">
        {path(goesLine(goesP3), COL.cyan, 1.2, "g3")}
        {path(goesLine(goesP2), COL.green, 1.2, "g2")}
        {path(goesLine(goesSpike), COL.grey, 1, "gs")}
        {path(goesLine(goesP1), COL.blue, 1.3, "g1")}
      </g>
      <g clipPath="url(#c-ace)">
        {path(aceLine(aceP1), COL.green, 1.3, "a1")}
        {path(aceLine(aceP2), COL.yellow, 1.3, "a2")}
        {path(aceLine(aceP3), COL.orange, 1.3, "a3")}
        {path(aceLine(aceP4), COL.white, 1.2, "a4")}
        {path(aceLine(aceP5), COL.red, 1.2, "a5")}
      </g>
      <g clipPath="url(#c-xmm)">
        {path(xmmLine(xmmLE1), COL.blue, 1.5, "x1")}
        {path(xmmLine(xmmLE2), COL.cyan, 1.5, "x2")}
        {path(xmmLine(xmmHES1), COL.red, 1.5, "x3")}
        {path(xmmLine(xmmHES2), COL.orange, 1.5, "x4")}
        {path(xmmLine(xmmHEC), COL.yellow, 1.5, "x5")}
      </g>
      <g clipPath="url(#c-eph)">
        {path(ephLine(ephE150), COL.yellow, 1.7, "e1")}
        {path(ephLine(ephE1300), COL.red, 1.7, "e2")}
        <line x1={X0} x2={X1} y1={P.eph.y(EPHIN_E150_LIMIT)} y2={P.eph.y(EPHIN_E150_LIMIT)} stroke={COL.yellow} strokeWidth={1.3} />
        <line x1={X0} x2={X1} y1={P.eph.y(EPHIN_E1300_LIMIT)} y2={P.eph.y(EPHIN_E1300_LIMIT)} stroke={COL.red} strokeWidth={1.3} />
      </g>
      <g clipPath="url(#c-acis)">
        {acisSegs(acisCcd5, COL.red, 3, "r")}
        {acisSegs(acisCcd6, COL.yellow, 6, "y")}
        {acisSegs(acisCcd7, COL.cyan, 3.5, "c")}
      </g>

      {/* frames and ticks */}
      <g stroke={COL.white} strokeWidth={1} fill="none" shapeRendering="crispEdges">
        {Object.entries(P).map(([k, p]) => (
          <rect key={"f" + k} x={X0 + 0.5} y={p.top + 0.5} width={X1 - X0 - 1} height={p.bottom - p.top} />
        ))}
        {Object.entries(P).map(([k, p]) => xTicks(k, p.top, p.bottom))}
        {yTicks("g", P.goes.y, linTicks(0, 2000, 500), linTicks(0, 2300, 100), P.goes.top, P.goes.bottom)}
        {yTicks("a", P.ace.y, ACE_TICKS, linTicks(0, 400000, 10000), P.ace.top, P.ace.bottom)}
        {yTicks("x", P.xmm.y, XMM_TICKS, logMinor(P.xmm.y), P.xmm.top, P.xmm.bottom)}
        {yTicks("e", P.eph.y, EPHIN_TICKS, logMinor(P.eph.y), P.eph.top, P.eph.bottom)}
        {yTicks("s", P.acis.y, ACIS_TICKS, linTicks(0, 50, 2), P.acis.top, P.acis.bottom)}
      </g>

      {/* y tick labels */}
      <g fill={COL.white} fontFamily={TICK_FONT} fontSize={11} textAnchor="end">
        {GOES_TICKS.map((v) => (
          <text key={"gl" + v} x={45} y={P.goes.y(v) + 4}>{v}</text>
        ))}
        {ACE_TICKS.map((v) =>
          v === 0 ? (
            <text key={"al" + v} x={45} y={P.ace.y(v) - 1}>0</text>
          ) : (
            <text key={"al" + v} x={45} y={P.ace.y(v) + 4}>
              {`${v / 100000}×10`}
              <tspan dy={-5} fontSize={8}>5</tspan>
            </text>
          )
        )}
        {XMM_TICKS.map((v) => (
          <text key={"xl" + v} x={45} y={P.xmm.y(v) + 4}>
            10
            <tspan dy={-5} fontSize={8}>{Math.round(Math.log10(v))}</tspan>
          </text>
        ))}
        {EPHIN_TICKS.map((v) => (
          <text key={"el" + v} x={45} y={P.eph.y(v) + 4}>{efmt(v)}</text>
        ))}
        {ACIS_TICKS.map((v) => (
          <text key={"sl" + v} x={45} y={P.acis.y(v) + 4}>{v}</text>
        ))}
      </g>

      {/* x tick labels */}
      <g fill={COL.white} fontFamily={TICK_FONT} fontSize={11} textAnchor="middle">
        {X_MAJOR_TICKS.map((d) => (
          <text key={"xl" + d} x={x(d)} y={677}>{d}</text>
        ))}
        <text x={354} y={689}>{X_TITLE}</text>
      </g>
      <text x={49} y={697} fill={COL.white} fontFamily={TICK_FONT} fontSize={16.5}>{YEAR_LABEL}</text>

      {/* axis titles */}
      {leftTitle("particles/cm2 Sr s MeV", 14, 78)}
      {leftTitle("particles/cm2 Sr s MeV", 14, 210)}
      {leftTitle("counts/sec", 22, 350)}
      {leftTitle("counts/sec", 25, 607)}

      {rightTitle("GOES13 RATES", 72)}
      {rightTitle("ACE RATES", 178)}
      {rightTitle("XMM RATES", 329)}
      {rightTitle("EPHIN RATES", 467)}
      {rightTitle("ACIS RATES", 592)}

      {legend(GOES_LEGEND, [COL.blue, COL.green, COL.cyan, COL.white], 35, "lg")}
      {legend(ACE_LEGEND, [COL.green, COL.yellow, COL.orange, COL.white, COL.red, COL.white], 161, "la")}
      {legend(XMM_LEGEND, [COL.blue, COL.cyan, COL.red, COL.orange, COL.yellow], 308, "lx")}
      {legend(EPHIN_LEGEND, [COL.red, COL.yellow, COL.white, COL.green], 448, "le")}
      {legend(ACIS_LEGEND, [COL.red, COL.yellow, COL.cyan], 595, "ls")}
    </svg>
  );
}
